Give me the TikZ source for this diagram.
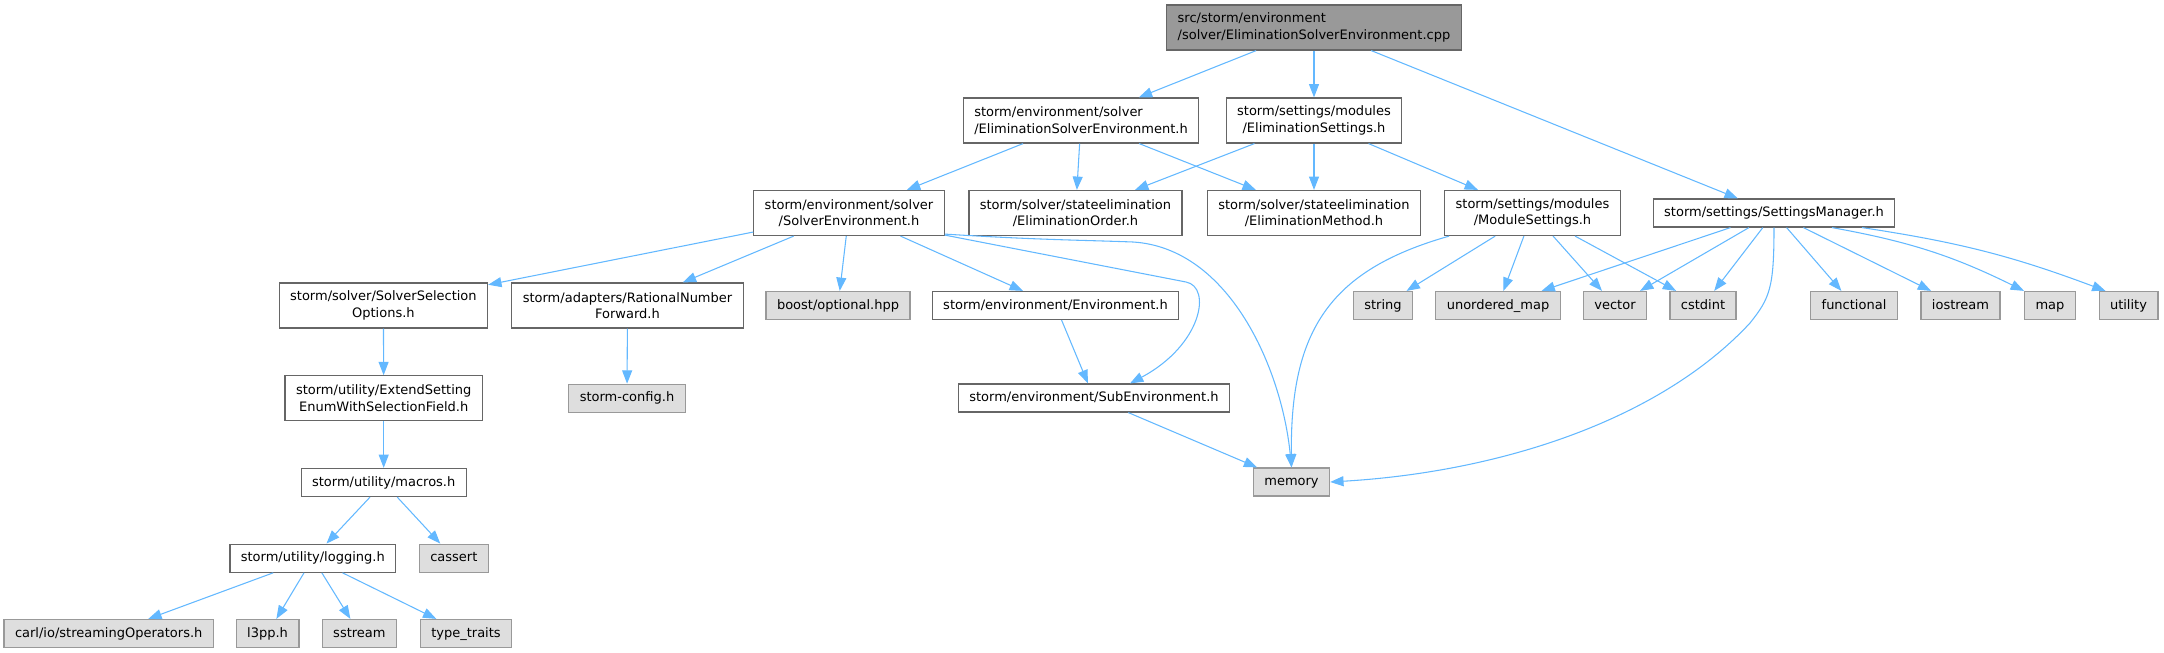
\documentclass[tikz,border=0pt]{standalone}
\usepackage{fontspec}
\usepackage{xcolor}
\usepackage{tikz}
\usetikzlibrary{calc,arrows.meta}
\newfontfamily\dejavu{DejaVu Sans}
\newcommand{\hdrfont}{\dejavu\fontsize{9.75}{12.5}\selectfont}
\definecolor{grey40}{HTML}{666666}
\definecolor{grey60}{HTML}{999999}
\definecolor{grey87}{HTML}{DEDEDE}
\definecolor{edgeblue}{HTML}{63B8FF}
\tikzset{
    hdr/.style={draw=grey40, fill=white, font=\hdrfont, inner xsep=8.2pt, inner ysep=0pt, minimum height=21pt, line width=0.9pt},
    one/.style={text height=7.4pt, text depth=2.1pt},
    two/.style={minimum height=33.75pt, align=center},
    sys/.style={hdr, one, draw=grey60, fill=grey87},
    dep/.style={draw=edgeblue, line width=0.8pt, -{Triangle[length=10pt,width=7.5pt]}}
}

\begin{document}
\begin{tikzpicture}[x=0.75pt,y=-0.75pt]
    \useasboundingbox (0,0) rectangle (2164,653);

    % Source file
    \node[hdr, two, align=left, fill=grey60] (root) at (1314,27.5) {src/storm/environment\\/solver/EliminationSolverEnvironment.cpp};

    % Direct includes
    \node[hdr, two, align=left] (ese) at (1081,120.5) {storm/environment/solver\\/EliminationSolverEnvironment.h};
    \node[hdr, two] (es) at (1314,120.5) {storm/settings/modules\\/EliminationSettings.h};

    \node[hdr, two] (se) at (849,213) {storm/environment/solver\\/SolverEnvironment.h};
    \node[hdr, two] (eo) at (1075.5,213) {storm/solver/stateelimination\\/EliminationOrder.h};
    \node[hdr, two] (em) at (1314,213) {storm/solver/stateelimination\\/EliminationMethod.h};
    \node[hdr, two] (ms) at (1532.5,213) {storm/settings/modules\\/ModuleSettings.h};
    \node[hdr, one] (sm) at (1774,213) {storm/settings/SettingsManager.h};

    % Third level
    \node[hdr, two] (ss) at (383.4,305.5) {storm/solver/SolverSelection\\Options.h};
    \node[hdr, two] (rn) at (627.5,305.5) {storm/adapters/RationalNumber\\Forward.h};
    \node[sys] (bo) at (838,305.5) {boost/optional.hpp};
    \node[hdr, one] (env) at (1055.5,305.5) {storm/environment/Environment.h};
    \node[sys] (str) at (1383,305.5) {string};
    \node[sys] (um) at (1498,305.5) {unordered\_map};
    \node[sys] (vec) at (1615,305.5) {vector};
    \node[sys] (cst) at (1703,305.5) {cstdint};
    \node[sys] (fun) at (1854,305.5) {functional};
    \node[sys] (ios) at (1960.5,305.5) {iostream};
    \node[sys] (map) at (2050,305.5) {map};
    \node[sys] (uti) at (2128.5,305.5) {utility};

    \node[hdr, two] (extset) at (383.7,398.3) {storm/utility/ExtendSetting\\EnumWithSelectionField.h};
    \node[sys] (cfg) at (627,398.3) {storm-config.h};
    \node[hdr, one] (sub) at (1094,398) {storm/environment/SubEnvironment.h};

    \node[hdr, one] (mac) at (383.7,482.5) {storm/utility/macros.h};
    \node[sys] (mem) at (1291.5,482) {memory};

    \node[hdr, one] (log) at (312.8,558.2) {storm/utility/logging.h};
    \node[sys] (cas) at (453.8,558.2) {cassert};

    \node[sys] (carl) at (108.7,633.5) {carl/io/streamingOperators.h};
    \node[sys] (lpp) at (267.6,633.5) {l3pp.h};
    \node[sys] (sst) at (359.4,633.5) {sstream};
    \node[sys] (tt) at (466,633.5) {type\_traits};

    % Include edges
    \draw[dep] (root) -- (ese);
    \draw[dep] (root) -- (es);
    \draw[dep] (root) -- (sm);
    \draw[dep] (ese) -- (se);
    \draw[dep] (ese) -- (eo);
    \draw[dep] (ese) -- (em);
    \draw[dep] (es) -- (eo);
    \draw[dep] (es) -- (em);
    \draw[dep] (es) -- (ms);

    \draw[dep] (se) -- (ss);
    \draw[dep] (se) -- (rn);
    \draw[dep] (se) -- (bo);
    \draw[dep] (se) -- (env);
    \draw[dep] ($(se.south east)+(0,-1)$) -- (1186,282) .. controls (1212,287) and (1202,345) .. ($(sub.north)+(36,0)$);
    \draw[dep] ($(se.south east)+(0,-2)$) .. controls (1040,240) and (1080,240) .. (1133,242) .. controls (1230,248) and (1282,370) .. (mem.north);

    \draw[dep] (ss) -- (extset);
    \draw[dep] (extset) -- (mac);
    \draw[dep] (mac) -- (log);
    \draw[dep] (mac) -- (cas);
    \draw[dep] (log) -- (carl);
    \draw[dep] (log) -- (lpp);
    \draw[dep] (log) -- (sst);
    \draw[dep] (log) -- (tt);
    \draw[dep] (rn) -- (cfg);
    \draw[dep] (env) -- (sub);
    \draw[dep] (sub) -- (mem);

    \draw[dep] ($(ms.south west)+(5,0)$) .. controls (1330,270) and (1290,330) .. (mem.north);
    \draw[dep] (ms) -- (str);
    \draw[dep] (ms) -- (um);
    \draw[dep] (ms) -- (vec);
    \draw[dep] (ms) -- (cst);

    \draw[dep] (sm) -- (um);
    \draw[dep] (sm) -- (vec);
    \draw[dep] (sm) -- (cst);
    \draw[dep] (sm.south) .. controls +(0,60) and +(20,-25) .. (1750,323) .. controls +(-90,97) and +(170,-10) .. (mem.east);
    \draw[dep] (sm) -- (fun);
    \draw[dep] (sm) -- (ios);
    \draw[dep] ($(sm.south)+(58,0)$) to[bend left=8] (map.north west);
    \draw[dep] ($(sm.south)+(88,0)$) to[bend left=6] ($(uti.north)+(-23,0)$);
\end{tikzpicture}
\end{document}
